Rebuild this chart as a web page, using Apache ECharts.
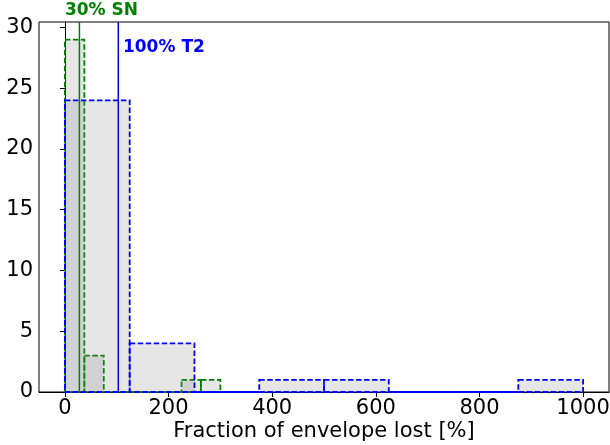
<!DOCTYPE html>
<html>
<head>
<meta charset="utf-8">
<script src="https://cdn.jsdelivr.net/npm/echarts@6/dist/echarts.min.js"></script>
<style>
  html, body { margin: 0; padding: 0; background: #fff; }
  #chart { width: 610px; height: 445px; }
</style>
</head>
<body>
<div id="chart"></div>
<script>
// histogram bins (edges) and counts
const t2Edges = [0, 125, 250, 375, 500, 625, 750, 875, 1000]
const t2Counts = [24, 4, 0, 1, 1, 0, 0, 1]
const snEdges = [0, 37.5, 75, 112.5, 150, 187.5, 225, 262.5, 300]
const snCounts = [29, 3, 0, 0, 0, 0, 1, 1]
// reference lines
const snLine = 28
const t2Line = 103
const snLabel = '30% SN'
const t2Label = '100% T2'
const xTicks = [0, 200, 400, 600, 800, 1000]
const yTicks = [0, 5, 10, 15, 20, 25, 30]

const FONT = 'DejaVu Sans'
const Y_MAX = 30.45

function binsOf(edges, counts) {
    return counts.map((c, i) => [edges[i], edges[i + 1], c])
}

function histSeries(edges, counts, color) {
    return {
        type: 'custom',
        clip: false,
        data: binsOf(edges, counts),
        renderItem(params, api) {
            const p0 = api.coord([api.value(0), api.value(2)])
            const p1 = api.coord([api.value(1), 0])
            return {
                type: 'rect',
                shape: { x: p0[0], y: p0[1], width: p1[0] - p0[0], height: p1[1] - p0[1] },
                style: {
                    fill: 'rgba(128,128,128,0.2)',
                    stroke: color,
                    lineWidth: 1.8,
                    lineDash: [5.5, 2.5]
                }
            }
        }
    }
}

function vlineSeries(x, color, label, tx, ty) {
    return {
        type: 'custom',
        clip: false,
        data: [[x]],
        z: 5,
        renderItem(params, api) {
            const bottom = api.coord([api.value(0), 0])
            const top = api.coord([api.value(0), Y_MAX])
            const t = api.coord([tx, ty])
            return {
                type: 'group',
                children: [
                    {
                        type: 'line',
                        shape: { x1: bottom[0], y1: bottom[1], x2: top[0], y2: top[1] },
                        style: { stroke: color, lineWidth: 1.5 }
                    },
                    {
                        type: 'text',
                        x: t[0], y: t[1],
                        style: {
                            text: label,
                            fill: color,
                            font: 'bold 17px "' + FONT + '"',
                            textAlign: 'left',
                            textVerticalAlign: 'middle'
                        }
                    }
                ]
            }
        }
    }
}

const chart = echarts.init(document.getElementById('chart'))
chart.setOption({
    animation: false,
    grid: {
        left: 39, right: 1, top: 22, bottom: 53,
        outerBoundsMode: 'none',
        containLabel: false,
        show: true, borderColor: '#000', borderWidth: 1
    },
    xAxis: {
        type: 'value',
        min: -50, max: 1050,
        name: 'Fraction of envelope lost [%]',
        nameLocation: 'middle',
        nameGap: 29,
        nameMoveOverlap: false,
        nameTextStyle: { fontFamily: FONT, fontSize: 21, color: '#000' },
        axisLine: { show: true, lineStyle: { color: '#000', width: 1 } },
        axisTick: { show: true, length: 5, inside: false, customValues: xTicks, lineStyle: { color: '#000' } },
        axisLabel: {
            customValues: xTicks, fontFamily: FONT, fontSize: 21, color: '#000', margin: 6,
            formatter: v => String(v)
        },
        splitLine: { show: false }
    },
    yAxis: {
        type: 'value',
        min: 0, max: Y_MAX,
        axisLine: { show: true, lineStyle: { color: '#000', width: 1 } },
        axisTick: { show: true, length: 5, inside: false, customValues: yTicks, lineStyle: { color: '#000' } },
        axisLabel: { customValues: yTicks, fontFamily: FONT, fontSize: 21, color: '#000', margin: 6 },
        splitLine: { show: false }
    },
    series: [
        histSeries(snEdges, snCounts, 'green'),
        histSeries(t2Edges, t2Counts, 'blue'),
        vlineSeries(snLine, 'green', snLabel, 0, 31.4),
        vlineSeries(t2Line, 'blue', t2Label, 112, 28.35)
    ]
})
</script>
</body>
</html>
